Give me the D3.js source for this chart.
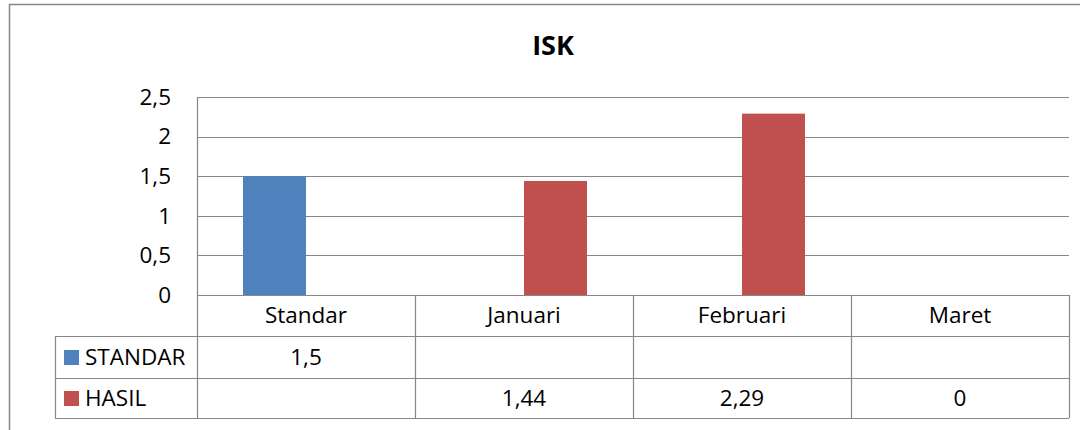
<!DOCTYPE html>
<html>
<head>
<meta charset="utf-8">
<script src="https://cdn.jsdelivr.net/npm/d3@7"></script>
<style>
  body { margin: 0; background: #fff; }
  svg { display: block; }
</style>
</head>
<body>
<div id="chart"></div>
<script>
const categories = ["Standar", "Januari", "Februari", "Maret"];
const seriesNames = ["STANDAR", "HASIL"];
const standarValues = [1.5, null, null, null];
const hasilValues = [null, 1.44, 2.29, 0];
const yTicks = [0, 0.5, 1, 1.5, 2, 2.5];
const colors = ["#4F81BD", "#C0504D"];

const width = 1080, height = 430;
const font = "'Open Sans', 'Noto Sans', sans-serif";
const fontSize = 22.5;
const gridColor = "#878787";

const svg = d3.select("#chart").append("svg")
  .attr("width", width).attr("height", height);

// outer chart frame (runs past the right/bottom of the picture)
svg.append("rect")
  .attr("x", 9.5).attr("y", 4.5)
  .attr("width", 1100).attr("height", 500)
  .attr("fill", "none").attr("stroke", gridColor).attr("stroke-width", 1.5);

svg.append("text")
  .attr("x", 553).attr("y", 55)
  .attr("text-anchor", "middle")
  .attr("font-family", font).attr("font-weight", "bold")
  .attr("font-size", 27)
  .text("ISK");

const plot = { left: 197, right: 1069, top: 97, bottom: 295 };
const rowH = [295, 336, 378, 418];
const tableLeft = 55;

const y = d3.scaleLinear().domain([0, 2.5]).range([plot.bottom, plot.top]);
const x = d3.scaleBand().domain(categories).range([plot.left, plot.right]);
const groupW = 126;
const x1 = d3.scaleBand().domain(seriesNames)
  .range([(x.bandwidth() - groupW) / 2, (x.bandwidth() + groupW) / 2]);

const fmt = v => String(v).replace(".", ",");

// gridlines
svg.append("g").selectAll("line").data(yTicks).join("line")
  .attr("x1", plot.left).attr("x2", plot.right)
  .attr("y1", d => Math.round(y(d)) + 0.5).attr("y2", d => Math.round(y(d)) + 0.5)
  .attr("stroke", gridColor).attr("stroke-width", 1.2);

// y tick labels
svg.append("g").selectAll("text").data(yTicks).join("text")
  .attr("x", 171).attr("y", d => y(d))
  .attr("dy", "0.35em")
  .attr("text-anchor", "end")
  .attr("font-family", font).attr("font-size", fontSize)
  .text(d => fmt(d));

// bars
const series = [standarValues, hasilValues];
series.forEach((vals, si) => {
  svg.append("g").selectAll("rect")
    .data(categories.map((c, i) => ({ c, v: vals[i] })).filter(d => d.v !== null && d.v > 0))
    .join("rect")
    .attr("x", d => x(d.c) + x1(seriesNames[si]))
    .attr("width", x1.bandwidth())
    .attr("y", d => y(d.v))
    .attr("height", d => y(0) - y(d.v))
    .attr("fill", colors[si]);
});

// data table lines
const tg = svg.append("g").attr("stroke", gridColor).attr("stroke-width", 1.2);
[rowH[1], rowH[2], rowH[3]].forEach(h => {
  tg.append("line").attr("x1", tableLeft).attr("x2", plot.right)
    .attr("y1", h + 0.5).attr("y2", h + 0.5);
});
tg.append("line").attr("x1", plot.left + 0.5).attr("x2", plot.left + 0.5)
  .attr("y1", plot.top).attr("y2", rowH[3]);
tg.append("line").attr("x1", tableLeft + 0.5).attr("x2", tableLeft + 0.5)
  .attr("y1", rowH[1]).attr("y2", rowH[3]);
categories.forEach(c => {
  const xr = Math.round(x(c) + x.bandwidth()) + 0.5;
  tg.append("line").attr("x1", xr).attr("x2", xr)
    .attr("y1", rowH[0]).attr("y2", rowH[3]);
});

// category labels
svg.append("g").selectAll("text").data(categories).join("text")
  .attr("x", d => x(d) + x.bandwidth() / 2)
  .attr("y", (rowH[0] + rowH[1]) / 2)
  .attr("dy", "0.35em")
  .attr("text-anchor", "middle")
  .attr("font-family", font).attr("font-size", fontSize)
  .text(d => d);

// series rows: legend key + values
series.forEach((vals, si) => {
  const cy = (rowH[si + 1] + rowH[si + 2]) / 2;
  svg.append("rect")
    .attr("x", 64).attr("y", cy - 7)
    .attr("width", 15).attr("height", 15)
    .attr("fill", colors[si]);
  svg.append("text")
    .attr("x", 85).attr("y", cy).attr("dy", "0.35em")
    .attr("font-family", font).attr("font-size", fontSize)
    .text(seriesNames[si]);
  svg.append("g").selectAll("text")
    .data(categories.map((c, i) => ({ c, v: vals[i] })).filter(d => d.v !== null))
    .join("text")
    .attr("x", d => x(d.c) + x.bandwidth() / 2)
    .attr("y", cy).attr("dy", "0.35em")
    .attr("text-anchor", "middle")
    .attr("font-family", font).attr("font-size", fontSize)
    .text(d => fmt(d.v));
});
</script>
</body>
</html>
